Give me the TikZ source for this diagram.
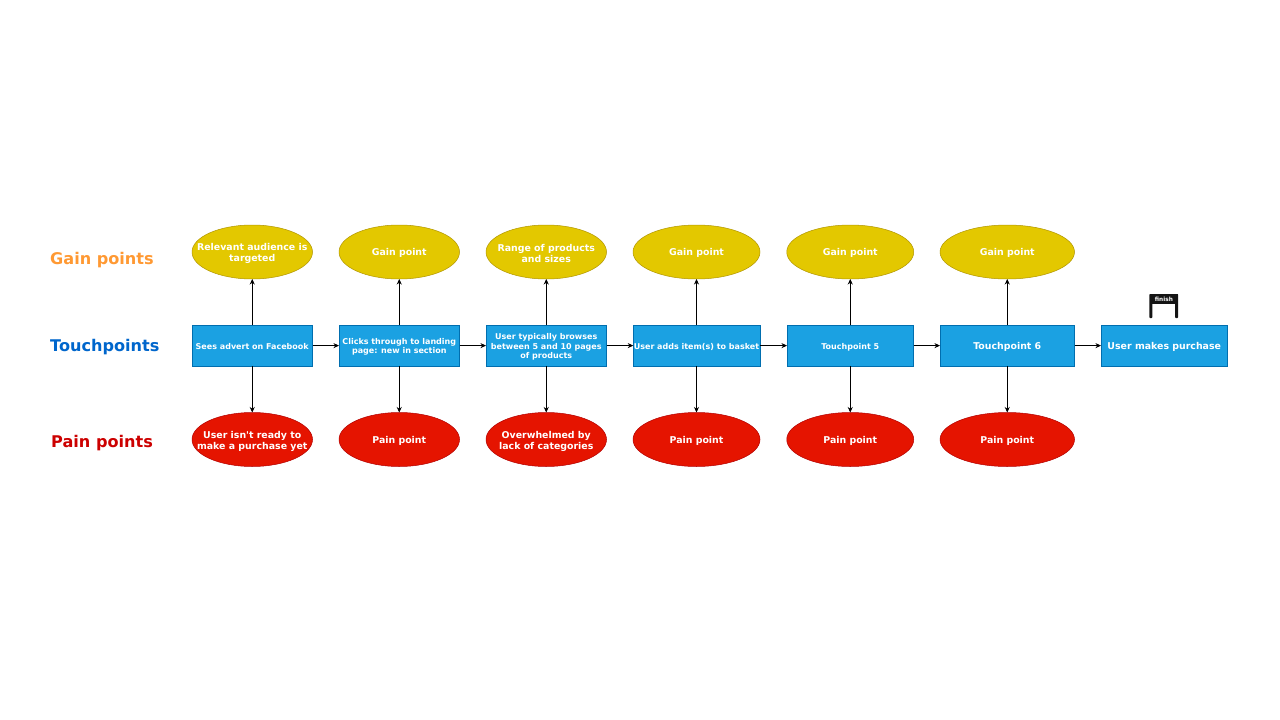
\documentclass[tikz,border=0pt]{standalone}
\usepackage{fontspec}
\setmainfont{DejaVu Sans}[Ligatures=TeXOff]
\usetikzlibrary{shapes.geometric,arrows.meta}
\definecolor{tpfill}{HTML}{1BA1E2}\definecolor{tpline}{HTML}{006EAF}
\definecolor{gainfill}{HTML}{E3C800}\definecolor{gainline}{HTML}{B09500}
\definecolor{painfill}{HTML}{E51400}\definecolor{painline}{HTML}{B20000}
\definecolor{gainlabel}{HTML}{FF9933}\definecolor{touchlabel}{HTML}{0066CC}\definecolor{painlabel}{HTML}{CC0000}
\newcommand{\fs}[1]{\fontsize{#1}{#1}\selectfont}
\newcommand{\dn}{\rule{0pt}{9.2pt}}
\newcommand{\dnt}{\rule{0pt}{10.4pt}}
\tikzset{
 base/.style={inner sep=0pt,outer sep=0pt,line width=.5pt,text=white,align=center,font=\bfseries\fontsize{9.4}{11}\selectfont},
 tp/.style={base,rectangle,draw=tpline,fill=tpfill,minimum height=40.5pt},
 gain/.style={base,ellipse,inner xsep=-30pt,draw=gainline,fill=gainfill,minimum height=54pt},
 pain/.style={base,ellipse,inner xsep=-30pt,draw=painline,fill=painfill,minimum height=54pt},
 rowlabel/.style={anchor=west,inner sep=0pt,font=\bfseries\fontsize{16.1}{20}\selectfont},
 conn/.style={draw=black,line width=.7pt,-{Stealth[length=5.5pt,width=5pt]}}
}
\begin{document}
\begin{tikzpicture}[x=1pt,y=-1pt]
\useasboundingbox (0,0) rectangle (1280,720);
\node[rowlabel,text=gainlabel] (lg) at (50,260.5) {Gain points};
\node[rowlabel,text=touchlabel] (lt) at (50,347.5) {Touchpoints};
\node[rowlabel,text=painlabel] (lp) at (51,443) {Pain points};

\node[tp,minimum width=120.5pt,font=\bfseries\fs{8}] (t1) at (252.25,345.6) {\rule[-1.7pt]{0pt}{10.7pt}Sees advert on Facebook};
\node[tp,minimum width=120.5pt,font=\bfseries\fontsize{8}{9.5}\selectfont] (t2) at (399.25,345.6) {\rule{0pt}{9pt}Clicks through to landing\\page: new in section};
\node[tp,minimum width=120.5pt,font=\bfseries\fontsize{8}{9.3}\selectfont] (t3) at (546.25,345.6) {\rule{0pt}{9pt}User typically browses\\between 5 and 10 pages\\of products};
\node[tp,minimum width=126.5pt,font=\bfseries\fs{8}] (t4) at (696.5,345.6) {\rule{0pt}{9pt}User adds item(s) to basket};
\node[tp,minimum width=126.5pt,font=\bfseries\fs{8}] (t5) at (850.25,345.6) {\rule{0pt}{9pt}Touchpoint 5};
\node[tp,minimum width=134.5pt,font=\bfseries\fs{9.4}] (t6) at (1007.25,345.6) {\rule{0pt}{9.8pt}Touchpoint 6};
\node[tp,minimum width=126.5pt,font=\bfseries\fs{9.4}] (t7) at (1164.25,345.6) {\rule{0pt}{9.8pt}User makes purchase};

\node[gain,minimum width=120.5pt] (g1) at (252.25,252) {\dnt Relevant audience is\\targeted};
\node[gain,minimum width=120.5pt] (g2) at (399.25,252) {\dn Gain point};
\node[gain,minimum width=120.5pt] (g3) at (546.25,252) {\dnt Range of products\\and sizes};
\node[gain,minimum width=127pt] (g4) at (696.5,252) {\dn Gain point};
\node[gain,minimum width=127pt] (g5) at (850.25,252) {\dn Gain point};
\node[gain,minimum width=134.5pt] (g6) at (1007.25,252) {\dn Gain point};

\node[pain,minimum width=120.5pt] (p1) at (252.25,439.5) {\dnt User isn't ready to\\make a purchase yet};
\node[pain,minimum width=120.5pt] (p2) at (399.25,439.5) {\dn Pain point};
\node[pain,minimum width=120.5pt] (p3) at (546.25,439.5) {\dnt Overwhelmed by\\lack of categories};
\node[pain,minimum width=127pt] (p4) at (696.5,439.5) {\dn Pain point};
\node[pain,minimum width=127pt] (p5) at (850.25,439.5) {\dn Pain point};
\node[pain,minimum width=134.5pt] (p6) at (1007.25,439.5) {\dn Pain point};

\foreach \i in {1,...,6}{
  \draw[conn] (t\i) -- (g\i);
  \draw[conn] (t\i) -- (p\i);
}
\draw[conn] (t1) -- (t2);
\draw[conn] (t2) -- (t3);
\draw[conn] (t3) -- (t4);
\draw[conn] (t4) -- (t5);
\draw[conn] (t5) -- (t6);
\draw[conn] (t6) -- (t7);

% finish gate
\fill[black!92] (1149.5,294.3) rectangle (1177.5,304);
\fill[black!92,rounded corners=.8pt] (1149.3,294) rectangle (1152.4,318);
\fill[black!92,rounded corners=.8pt] (1175.1,294) rectangle (1178.2,318);
\node[inner sep=0pt,text=white,font=\bfseries\fs{5.8}] (fin) at (1163.9,299.2) {finish};
\end{tikzpicture}
\end{document}
